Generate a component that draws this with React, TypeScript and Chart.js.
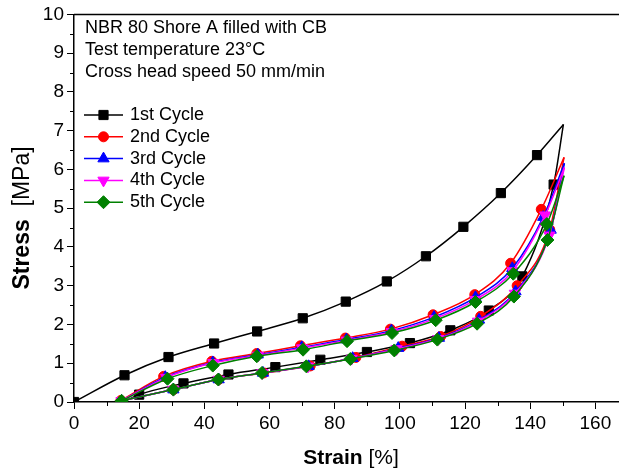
import React, { useEffect, useRef } from "react";
import { Chart, registerables } from "chart.js";

Chart.register(...registerables);

const FONT = "'Liberation Sans', Arial, Helvetica, sans-serif";

// ---- axes ----
const xMin = 0;
const xMax = 171.4;
const xStep = 20;
const xMinorValues = [10, 30, 50, 70, 90, 110, 130, 150, 170];
const yMin = 0;
const yMax = 10;
const yStep = 1;
const yMinorValues = [0.5, 1.5, 2.5, 3.5, 4.5, 5.5, 6.5, 7.5, 8.5, 9.5];
const xTitleBold = "Strain";
const xTitleRest = " [%]";
const yTitleBold = "Stress";
const yTitleRest = "  [MPa]";

// ---- annotation ----
const annotationLines = [
  "NBR 80 Shore A filled with CB",
  "Test temperature 23°C",
  "Cross head speed 50 mm/min",
];

// ---- series ----
const cycleNames = ["1st Cycle", "2nd Cycle", "3rd Cycle", "4th Cycle", "5th Cycle"];
const cycleColors = ["#000000", "#ff0000", "#0000ff", "#ff00ff", "#008000"];
const cycleMarkers = ["rect", "circle", "triangle", "invTriangle", "rectRot"];

type P = [number, number];

// [strain %, stress MPa]
const cycle1Loading: P[] = [
  [0, 0], [15.5, 0.69], [29.0, 1.16], [43.0, 1.51], [56.2, 1.82], [70.2, 2.16],
  [83.4, 2.59], [96.0, 3.11], [108.0, 3.76], [119.5, 4.52], [131.0, 5.39],
  [142.1, 6.37], [150.2, 7.16],
];
const cycle1Unloading: P[] = [
  [150.2, 7.16], [147.2, 5.61], [137.6, 3.24], [127.3, 2.36], [115.5, 1.85],
  [103.1, 1.52], [89.9, 1.29], [75.6, 1.09], [61.8, 0.9], [47.4, 0.71],
  [33.6, 0.48], [20.0, 0.19], [15.0, 0.0],
];
const cycle2Loading: P[] = [
  [14.4, 0.04], [27.5, 0.66], [42.3, 1.05], [56.1, 1.25], [69.5, 1.45],
  [83.3, 1.65], [97.1, 1.88], [110.2, 2.25], [123.0, 2.77], [134.0, 3.58],
  [143.4, 4.97], [150.4, 6.31],
];
const cycle2Unloading: P[] = [
  [150.4, 6.31], [146.0, 4.45], [136.0, 3.0], [124.8, 2.21], [112.5, 1.69],
  [100.7, 1.44], [86.5, 1.15], [72.5, 0.93], [58.2, 0.75], [44.4, 0.58],
  [30.5, 0.32], [14.6, 0.03],
];
const cycle3Loading: P[] = [
  [14.6, 0.03], [28.0, 0.64], [42.6, 1.02], [56.4, 1.22], [69.9, 1.41],
  [83.6, 1.61], [97.4, 1.84], [110.5, 2.19], [123.2, 2.7], [134.5, 3.45],
  [144.0, 4.77], [150.5, 6.16],
];
const cycle3Unloading: P[] = [
  [150.5, 6.16], [146.3, 4.44], [135.5, 2.85], [124.3, 2.12], [112.0, 1.65],
  [99.5, 1.39], [85.5, 1.13], [72.0, 0.92], [58.0, 0.75], [44.4, 0.58],
  [30.5, 0.32], [14.6, 0.03],
];
const cycle4Loading: P[] = [
  [14.6, 0.03], [28.3, 0.63], [42.8, 1.01], [56.5, 1.2], [70.0, 1.39],
  [83.7, 1.59], [97.5, 1.81], [110.8, 2.15], [123.2, 2.64], [134.6, 3.38],
  [144.6, 4.82], [150.5, 6.05],
];
const cycle4Unloading: P[] = [
  [150.5, 6.05], [145.9, 4.3], [135.3, 2.8], [124.0, 2.08], [111.8, 1.63],
  [99.0, 1.37], [85.2, 1.12], [71.8, 0.92], [57.8, 0.75], [44.4, 0.58],
  [30.5, 0.32], [14.6, 0.03],
];
const cycle5Loading: P[] = [
  [14.6, 0.03], [28.7, 0.6], [42.6, 0.94], [56.1, 1.18], [70.3, 1.35],
  [83.8, 1.57], [97.6, 1.78], [111.0, 2.11], [123.2, 2.58], [134.8, 3.31],
  [145.1, 4.59], [150.4, 5.84],
];
const cycle5Unloading: P[] = [
  [150.4, 5.84], [145.3, 4.18], [135.0, 2.72], [123.7, 2.02], [111.5, 1.61],
  [98.3, 1.33], [84.8, 1.11], [71.3, 0.92], [57.7, 0.75], [44.3, 0.58],
  [30.5, 0.32], [14.6, 0.03],
];

const loadingCurves = [cycle1Loading, cycle2Loading, cycle3Loading, cycle4Loading, cycle5Loading];
const unloadingCurves = [cycle1Unloading, cycle2Unloading, cycle3Unloading, cycle4Unloading, cycle5Unloading];

const markerRadius: Record<string, number> = {
  rect: 6.5,
  circle: 5,
  triangle: 6.5,
  invTriangle: 6.5,
  rectRot: 6.5,
};

function chartPointStyle(m: string) {
  return m === "invTriangle" ? "triangle" : m;
}

function drawMarker(ctx: CanvasRenderingContext2D, m: string, x: number, y: number, color: string) {
  const r = markerRadius[m];
  ctx.save();
  ctx.fillStyle = color;
  ctx.strokeStyle = color;
  ctx.lineWidth = 1;
  ctx.beginPath();
  if (m === "rect") {
    const s = Math.SQRT1_2 * r;
    ctx.rect(x - s, y - s, 2 * s, 2 * s);
  } else if (m === "circle") {
    ctx.arc(x, y, r, 0, Math.PI * 2);
  } else if (m === "triangle" || m === "invTriangle") {
    let a = m === "triangle" ? 0 : Math.PI;
    for (let i = 0; i < 3; i++) {
      const px = x + Math.sin(a) * r;
      const py = y - Math.cos(a) * r;
      if (i === 0) ctx.moveTo(px, py);
      else ctx.lineTo(px, py);
      a += (2 * Math.PI) / 3;
    }
  } else if (m === "rectRot") {
    ctx.moveTo(x, y - r);
    ctx.lineTo(x + r, y);
    ctx.lineTo(x, y + r);
    ctx.lineTo(x - r, y);
  }
  ctx.closePath();
  ctx.fill();
  ctx.stroke();
  ctx.restore();
}

const decorPlugin = {
  id: "decor",
  afterDraw(chart: any) {
    const ctx: CanvasRenderingContext2D = chart.ctx;
    const area = chart.chartArea;
    const xs = chart.scales.x;
    const ys = chart.scales.y;
    ctx.save();
    // top frame line
    ctx.strokeStyle = "#000";
    ctx.lineWidth = 1.5;
    ctx.beginPath();
    ctx.moveTo(area.left, area.top);
    ctx.lineTo(area.right, area.top);
    ctx.stroke();
    // minor ticks
    ctx.lineWidth = 1;
    ctx.beginPath();
    xMinorValues.forEach((v) => {
      const px = Math.round(xs.getPixelForValue(v)) + 0.5;
      ctx.moveTo(px, area.bottom);
      ctx.lineTo(px, area.bottom + 4);
    });
    yMinorValues.forEach((v) => {
      const py = Math.round(ys.getPixelForValue(v)) + 0.5;
      ctx.moveTo(area.left, py);
      ctx.lineTo(area.left - 4, py);
    });
    ctx.stroke();

    // axis titles
    ctx.fillStyle = "#000";
    ctx.textBaseline = "middle";
    ctx.textAlign = "left";
    let boldFont = `bold 21px ${FONT}`;
    let normFont = `21px ${FONT}`;
    ctx.font = boldFont;
    const xb = ctx.measureText(xTitleBold).width;
    ctx.font = normFont;
    const xr = ctx.measureText(xTitleRest).width;
    const xcx = 351;
    const xcy = 458;
    ctx.font = boldFont;
    ctx.fillText(xTitleBold, xcx - (xb + xr) / 2, xcy);
    ctx.font = normFont;
    ctx.fillText(xTitleRest, xcx - (xb + xr) / 2 + xb, xcy);

    boldFont = `bold 23px ${FONT}`;
    normFont = `23px ${FONT}`;
    ctx.save();
    ctx.translate(23, 218);
    ctx.rotate(-Math.PI / 2);
    ctx.font = boldFont;
    const yb = ctx.measureText(yTitleBold).width;
    ctx.font = normFont;
    const yr = ctx.measureText(yTitleRest).width;
    ctx.font = boldFont;
    ctx.fillText(yTitleBold, -(yb + yr) / 2, 0);
    ctx.font = normFont;
    ctx.fillText(yTitleRest, -(yb + yr) / 2 + yb, 0);
    ctx.restore();

    // annotation
    ctx.font = `18px ${FONT}`;
    annotationLines.forEach((t, i) => {
      ctx.fillText(t, 85, 28 + i * 22);
    });

    // legend
    cycleNames.forEach((name, i) => {
      const cy = 115 + i * 21.8;
      ctx.strokeStyle = cycleColors[i];
      ctx.lineWidth = 1.5;
      ctx.beginPath();
      ctx.moveTo(84, cy);
      ctx.lineTo(123, cy);
      ctx.stroke();
      drawMarker(ctx, cycleMarkers[i], 103.5, cy, cycleColors[i]);
      ctx.fillStyle = "#000";
      ctx.font = `18px ${FONT}`;
      ctx.fillText(name, 130, cy);
    });
    ctx.restore();
  },
};

function buildDatasets() {
  const ds: any[] = [];
  for (let i = 0; i < cycleNames.length; i++) {
    const m = cycleMarkers[i];
    const common = {
      borderColor: cycleColors[i],
      backgroundColor: cycleColors[i],
      pointBackgroundColor: cycleColors[i],
      pointBorderColor: cycleColors[i],
      pointBorderWidth: 1,
      borderWidth: 1.5,
      pointStyle: chartPointStyle(m),
      pointRotation: m === "invTriangle" ? 180 : 0,
      cubicInterpolationMode: "monotone",
      fill: false,
      order: cycleNames.length - i,
    };
    const load = loadingCurves[i];
    ds.push({
      ...common,
      label: cycleNames[i],
      data: load.map(([x, y]) => ({ x, y })),
      pointRadius: load.map((_, k) => (k === load.length - 1 ? 0 : markerRadius[m])),
    });
    const unload = unloadingCurves[i];
    ds.push({
      ...common,
      label: cycleNames[i] + " unloading",
      data: unload.map(([x, y]) => ({ x, y })),
      pointRadius: unload.map((_, k) => (k === 0 || k === unload.length - 1 ? 0 : markerRadius[m])),
    });
  }
  return ds;
}

export default function App() {
  const ref = useRef<HTMLCanvasElement | null>(null);
  useEffect(() => {
    if (!ref.current) return;
    const chart = new Chart(ref.current, {
      type: "line",
      data: { datasets: buildDatasets() },
      options: {
        responsive: false,
        animation: false,
        devicePixelRatio: 1,
        layout: { padding: { top: 14, left: 0, right: 0, bottom: 0 } },
        plugins: { legend: { display: false }, tooltip: { enabled: false } },
        elements: { point: { hoverRadius: 0 } },
        scales: {
          x: {
            type: "linear",
            min: xMin,
            max: xMax,
            afterFit: (s: any) => {
              s.height = 72;
            },
            border: { display: true, color: "#000", width: 1.5 },
            grid: { display: true, drawOnChartArea: false, drawTicks: true, tickLength: 7, color: "#000", lineWidth: 1 },
            ticks: {
              stepSize: xStep,
              includeBounds: false,
              autoSkip: false,
              maxRotation: 0,
              padding: 3,
              color: "#000",
              font: { family: FONT, size: 19 },
            },
          },
          y: {
            type: "linear",
            min: yMin,
            max: yMax,
            afterFit: (s: any) => {
              s.width = 74;
            },
            border: { display: true, color: "#000", width: 1.5 },
            grid: { display: true, drawOnChartArea: false, drawTicks: true, tickLength: 7, color: "#000", lineWidth: 1 },
            ticks: {
              stepSize: yStep,
              autoSkip: false,
              padding: 3,
              color: "#000",
              font: { family: FONT, size: 19 },
            },
          },
        },
      } as any,
      plugins: [decorPlugin],
    });
    return () => chart.destroy();
  }, []);
  return (
    <div
      style={{ position: "absolute", left: 0, top: 0, width: 619, height: 474, background: "#fff", overflow: "hidden" }}
    >
      <canvas ref={ref} width={640} height={474} style={{ display: "block", width: 640, height: 474 }} />
    </div>
  );
}
